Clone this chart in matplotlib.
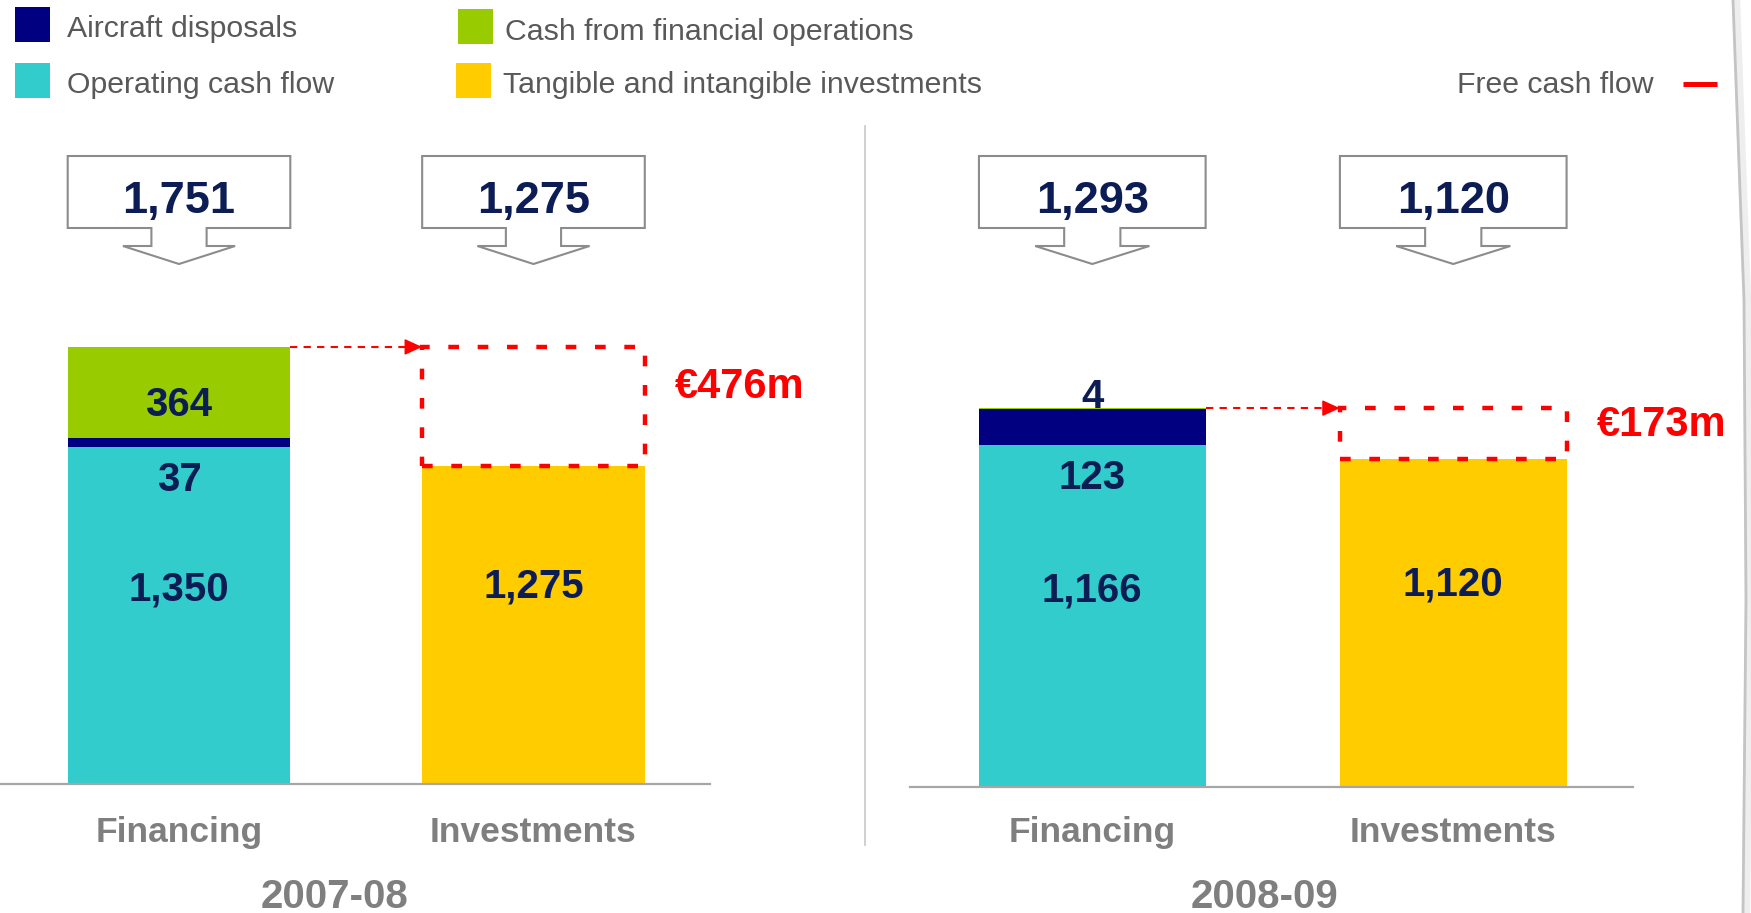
import matplotlib
matplotlib.use("Agg")
import matplotlib.pyplot as plt
import matplotlib.transforms as mtransforms
from matplotlib.patches import Rectangle, Polygon
from matplotlib.lines import Line2D

plt.rcParams['font.family'] = ['Liberation Sans', 'DejaVu Sans']

# EUR m
years = ['2007-08', '2008-09']
categories = ['Financing', 'Investments']
operating_cash_flow = [1350, 1166]
aircraft_disposals = [37, 123]
financial_operations = [364, 4]
investments = [1275, 1120]

legend_labels = ['Aircraft disposals', 'Operating cash flow',
                 'Cash from financial operations', 'Tangible and intangible investments']

NAVY = '#000080'
TEAL = '#33CCCC'
GREEN = '#99CC00'
YELLOW = '#FFCC00'
RED = '#FF0000'
TXT = '#0C1C55'
GREY = '#7F7F7F'
LEG_TXT = '#595959'

W, H = 1751, 913
fig = plt.figure(figsize=(W / 100, H / 100), dpi=100)
# pixel coords measured from the top-left corner
px = mtransforms.Affine2D().scale(1.0 / W, -1.0 / H).translate(0, 1) + fig.transFigure


def fmt(v):
    return f'{v:,}'


# panel layout: left px, right px, baseline px, px per EUR m, year label x
panels = [(0, 710, 784, 0.2496, 0.44), (910, 1633, 787, 0.293, 0.478)]
bar_w = 0.628
xlim = (-0.505, 1.498)

for i, (x0, x1, base, scale, year_x) in enumerate(panels):
    ax = fig.add_axes([x0 / W, (H - base) / H, (x1 - x0) / W, (base - 110) / H])
    ax.patch.set_alpha(0)
    ocf = operating_cash_flow[i]
    disp = aircraft_disposals[i]
    fin = financial_operations[i]
    inv = investments[i]
    total = ocf + disp + fin
    fcf = total - inv

    ax.bar(0, ocf, bar_w, color=TEAL, zorder=2)
    ax.bar(0, disp, bar_w, bottom=ocf, color=NAVY, zorder=2)
    ax.bar(0, fin, bar_w, bottom=ocf + disp, color=GREEN, zorder=2)
    ax.bar(1, inv, bar_w, color=YELLOW, zorder=2)
    ax.set_xlim(*xlim)
    ax.set_ylim(0, (base - 110) / scale)
    ax.set_xticks([])
    ax.set_yticks([])
    for s in ['top', 'left', 'right']:
        ax.spines[s].set_visible(False)
    ax.spines['bottom'].set_color('#A6A6A6')
    ax.spines['bottom'].set_linewidth(1.6)

    ppu = (x1 - x0) / (xlim[1] - xlim[0])  # px per x unit
    yx = mtransforms.blended_transform_factory(ax.transData, px)

    def label(x, y, s, dy, **kw):
        ax.annotate(s, (x, y), xytext=(0, dy), textcoords='offset pixels',
                    ha='center', va='baseline', fontsize=29, fontweight='bold',
                    color=TXT, zorder=5, **kw)

    # segment labels
    label(0, ocf / 2, fmt(ocf), 15)
    label(0, ocf, fmt(disp), -44)
    if fin * scale > 40:
        label(0, ocf + disp + fin / 2, fmt(fin), -24)
    else:
        label(0, total, fmt(fin), 0)
    label(1, inv / 2, fmt(inv), 27)

    # free cash flow box
    ax.add_patch(Rectangle((1 - bar_w / 2, inv), bar_w, fcf, fill=False,
                           edgecolor=RED, lw=3.2, ls=(0, (2.4, 4.2)),
                           capstyle='butt', zorder=4))
    tip = 1 - bar_w / 2
    ax.plot([bar_w / 2, tip - 14 / ppu], [total, total], color=RED, lw=1.5,
            ls=(0, (3.5, 3)), zorder=4)
    ax.annotate('', xy=(tip, total), xytext=(-15, 0), textcoords='offset pixels',
                arrowprops=dict(arrowstyle='-|>,head_length=1.1,head_width=0.5',
                                color=RED, lw=1, shrinkA=0, shrinkB=0), zorder=4)
    ax.annotate('\u20ac' + f'{fcf}m', (1 + bar_w / 2, total - 0.343 * fcf),
                xytext=(30, -10), textcoords='offset pixels', ha='left',
                va='baseline', fontsize=30, fontweight='bold', color=RED)

    # callout arrows with totals
    top = 156
    for cx, val in [(0, total), (1, inv)]:
        hw, sw, hh = bar_w / 2, bar_w * 0.124, bar_w * 0.252
        pts = [(cx - hw, top), (cx + hw, top), (cx + hw, top + 72), (cx + sw, top + 72),
               (cx + sw, top + 90), (cx + hh, top + 90), (cx, top + 108),
               (cx - hh, top + 90), (cx - sw, top + 90), (cx - sw, top + 72),
               (cx - hw, top + 72)]
        ax.add_patch(Polygon(pts, closed=True, facecolor='white', edgecolor='#8C8C8C',
                             lw=1.5, transform=yx, clip_on=False))
        ax.text(cx, top + 57, fmt(val), transform=yx, ha='center', va='baseline',
                fontsize=32.5, fontweight='bold', color=TXT)

    # category and year labels
    for cx, cat in enumerate(categories):
        ax.text(cx, 842, cat, transform=yx, ha='center', va='baseline',
                fontsize=25.5, fontweight='bold', color=GREY)
    ax.text(year_x, 908, years[i], transform=yx, ha='center', va='baseline',
            fontsize=29, fontweight='bold', color=GREY)

# legend
leg_items = [(15, 7, NAVY, 37), (15, 63, TEAL, 93), (458, 9, GREEN, 40), (456, 63, YELLOW, 93)]
for (lx, ly, c, tb), lab in zip(leg_items, legend_labels):
    fig.patches.append(Rectangle((lx, ly), 35, 35, facecolor=c, edgecolor='none',
                                 transform=px))
    fig.text(lx + (52 if lx < 100 else 47), tb, lab, transform=px, ha='left',
             va='baseline', fontsize=21.8, color=LEG_TXT)
fig.text(1457, 93, 'Free cash flow', transform=px, ha='left', va='baseline',
         fontsize=21.8, color=LEG_TXT)
fig.lines.append(Line2D([1683, 1717], [84.5, 84.5], color=RED, lw=3.6,
                        solid_capstyle='butt', transform=px))

# separator and page edge
fig.lines.append(Line2D([865, 865], [126, 845], color='#C8C8C8', lw=1.2, transform=px))
fig.lines.append(Line2D([1736, 1747, 1749, 1746], [0, 300, 600, 913], color='#EEEEEE',
                        lw=6, transform=px))
fig.lines.append(Line2D([1733, 1744, 1746, 1743], [0, 300, 600, 913], color='#C4C4C4',
                        lw=2, transform=px))

fig.savefig('out.png', dpi=100)
